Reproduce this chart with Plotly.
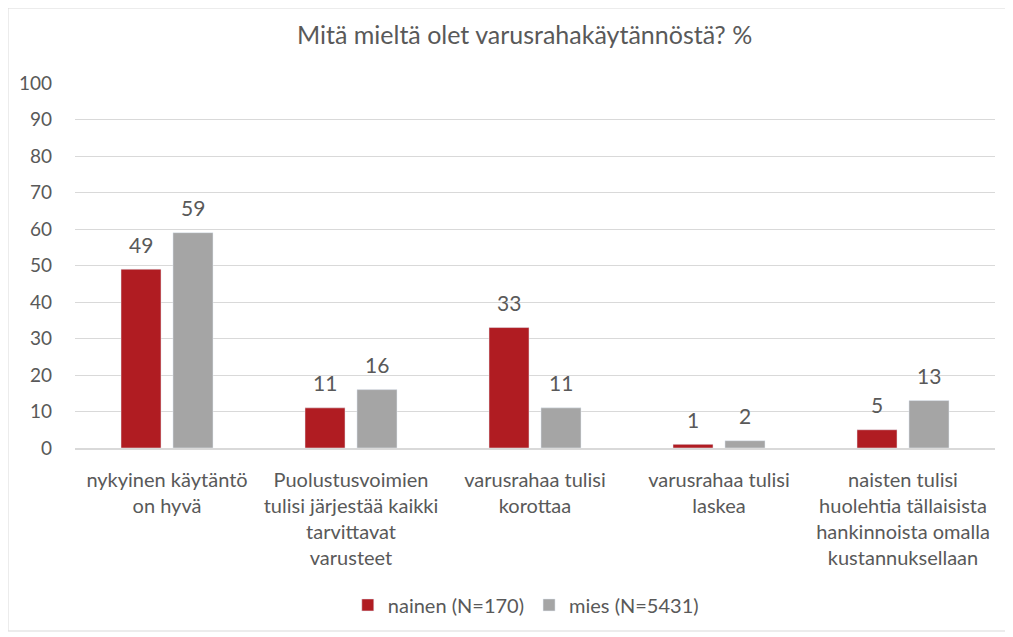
import plotly.graph_objects as go

categories = [
    "nykyinen käytäntö<br>on hyvä",
    "Puolustusvoimien<br>tulisi järjestää kaikki<br>tarvittavat<br>varusteet",
    "varusrahaa tulisi<br>korottaa",
    "varusrahaa tulisi<br>laskea",
    "naisten tulisi<br>huolehtia tällaisista<br>hankinnoista omalla<br>kustannuksellaan",
]
nainen = [49, 11, 33, 1, 5]
mies = [59, 16, 11, 2, 13]
series_names = ["nainen (N=170)", "mies (N=5431)"]
y_ticks = [0, 10, 20, 30, 40, 50, 60, 70, 80, 90, 100]

FONT = "Lato, Open Sans, sans-serif"
TXT = "#595959"
COLORS = ["#b01c22", "#a5a5a5"]

fig = go.Figure()
for name, vals, col in zip(series_names, [nainen, mies], COLORS):
    fig.add_trace(go.Bar(x=categories, y=vals, name=name, marker_color=col))

# data labels, placed above each bar
annotations = []
for vals, shift in zip([nainen, mies], [-26, 26]):
    for c, v in zip(categories, vals):
        annotations.append(dict(x=c, y=v, xref="x", yref="y", text=str(v), showarrow=False,
                                xshift=shift, yshift=25, yanchor="middle",
                                font=dict(size=21, color=TXT, family=FONT)))

W, H = 1005, 629
fig.update_layout(
    width=W, height=H,
    margin=dict(l=67, r=18, t=75, b=189),
    paper_bgcolor="white", plot_bgcolor="white",
    font=dict(family=FONT, color=TXT, size=20),
    title=dict(text="Mitä mieltä olet varusrahakäytännöstä? %", x=0.514, xanchor="center",
               y=0.957, yanchor="middle", font=dict(size=25, color=TXT, family=FONT)),
    barmode="group", bargap=0.435, bargroupgap=0.23,
    showlegend=True,
    legend=dict(orientation="h", x=0.49, xanchor="center", y=-0.43, yanchor="middle",
                font=dict(size=20, color=TXT, family=FONT)),
    xaxis=dict(showgrid=False, showline=True, linecolor="#d9d9d9", linewidth=1.5,
               ticks="", tickfont=dict(size=20, color=TXT, family=FONT), tickangle=0,
               ticklabelstandoff=13),
    yaxis=dict(range=[0, 100], tickvals=y_ticks, showgrid=True, gridcolor="#d9d9d9",
               gridwidth=1, zeroline=False, showline=False, ticks="",
               tickfont=dict(size=19, color=TXT, family=FONT), ticklabelstandoff=22),
    annotations=annotations,
    shapes=[dict(type="rect", xref="paper", yref="paper",
                 x0=(0 - 67) / 920, x1=(1000 - 67) / 920,
                 y0=(440 - 623) / 365, y1=(440 - 0) / 365,
                 line=dict(color="#d9d9d9", width=1), layer="below")],
)

fig.write_html("out.html")
